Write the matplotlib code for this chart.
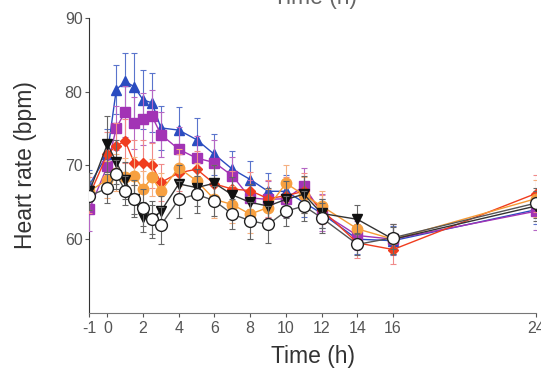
import matplotlib
matplotlib.use("Agg")
import matplotlib.pyplot as plt

plt.rcParams['font.family'] = ['Liberation Sans', 'DejaVu Sans']

times = [-1, 0, 0.5, 1, 1.5, 2, 2.5, 3, 4, 5, 6, 7, 8, 9, 10, 11, 12, 14, 16, 24]

blue_vals = [67.4, 71.5, 80.3, 81.4, 80.7, 78.9, 78.5, 75.1, 74.8, 73.5, 71.5, 69.5, 68.1, 66.5, 66.5, 65.0, 63.5, 60.0, 59.8, 64.0]
blue_err = [2.0, 3.5, 3.3, 3.8, 4.5, 4.0, 4.0, 3.0, 3.2, 3.0, 2.8, 2.5, 2.5, 2.5, 2.2, 2.0, 2.0, 2.0, 2.0, 2.0]

purple_vals = [64.1, 69.9, 75.1, 77.3, 75.8, 76.3, 76.7, 74.2, 72.2, 71.0, 70.4, 68.6, 65.6, 65.4, 65.5, 67.2, 63.6, 60.5, 60.0, 63.8]
purple_err = [3.0, 3.0, 3.0, 3.5, 3.5, 3.5, 3.5, 3.0, 3.0, 3.0, 3.0, 2.5, 2.5, 2.5, 2.5, 2.5, 2.5, 2.0, 2.0, 2.5]

red_vals = [66.0, 71.5, 72.7, 73.3, 70.4, 70.4, 70.0, 67.7, 69.0, 69.5, 67.5, 66.8, 66.6, 65.5, 65.9, 66.5, 64.0, 59.5, 58.6, 66.2]
red_err = [2.5, 3.0, 3.0, 3.0, 3.0, 3.0, 3.0, 2.5, 2.5, 2.5, 2.5, 2.5, 2.5, 2.5, 2.5, 2.5, 2.0, 2.0, 2.0, 2.5]

orange_vals = [66.5, 68.1, 69.0, 68.5, 68.6, 66.8, 68.4, 66.5, 69.7, 67.9, 65.4, 64.7, 63.4, 64.3, 67.6, 66.0, 64.5, 61.4, 60.0, 65.5]
orange_err = [2.5, 2.5, 2.5, 2.5, 2.5, 2.5, 2.5, 2.5, 2.5, 2.5, 2.5, 2.5, 2.5, 2.5, 2.5, 2.5, 2.0, 2.0, 2.0, 2.5]

black_vals = [66.5, 72.9, 70.5, 68.0, 65.5, 63.0, 62.7, 63.8, 67.5, 67.0, 67.6, 66.0, 65.0, 64.5, 65.4, 66.1, 63.5, 62.7, 60.0, 64.5]
black_err = [2.5, 3.8, 3.0, 2.5, 2.5, 2.0, 2.0, 2.0, 2.5, 2.5, 2.5, 2.5, 2.5, 2.5, 2.5, 2.5, 2.0, 2.0, 2.0, 2.0]

white_vals = [65.9, 66.9, 68.8, 66.6, 65.4, 64.3, 62.7, 61.9, 65.4, 66.1, 65.2, 63.4, 62.5, 62.0, 63.8, 64.5, 62.9, 59.3, 60.2, 64.9]
white_err = [2.0, 2.0, 2.0, 2.0, 2.0, 2.5, 2.5, 2.5, 2.5, 2.5, 2.0, 2.0, 2.5, 2.5, 2.0, 2.0, 2.0, 1.5, 1.5, 2.0]

xticks = [-1, 0, 2, 4, 6, 8, 10, 12, 14, 16, 24]
yticks = [60, 70, 80, 90]

fig = plt.figure(figsize=(5.41, 3.69), dpi=100)
ax = fig.add_axes([0.1654, 0.152, 0.8253, 0.799])

series = [
    (blue_vals, blue_err, '^', '#2a4cc0', '#2a4cc0', '#5a74cc', 7.5),
    (purple_vals, purple_err, 's', '#a233b5', '#a233b5', '#b566c4', 6.5),
    (red_vals, red_err, 'D', '#f03c1e', '#f03c1e', '#f08a8a', 5.5),
    (orange_vals, orange_err, 'o', '#f7a040', '#f59a35', '#f5b080', 7.5),
    (black_vals, black_err, 'v', '#111111', '#333333', '#666666', 7.5),
    (white_vals, white_err, 'o', 'white', '#555555', '#666666', 8.5),
]

for z, (vals, err, mk, fc, lc, ec, ms) in enumerate(series):
    ax.errorbar(times, vals, yerr=err, fmt='none', ecolor=ec, elinewidth=0.8,
                capsize=2, capthick=0.8, zorder=2 + z * 2)
    ax.plot(times, vals, color=lc, lw=1.0, marker=mk, ms=ms, mfc=fc,
            mec='#222222' if fc == 'white' else fc, mew=1.0, zorder=3 + z * 2)

ax.set_xlim(-1, 24)
ax.set_ylim(50, 90)
ax.set_xticks(xticks)
ax.set_xticklabels([str(v) for v in xticks])
ax.set_yticks(yticks)
ax.spines['top'].set_visible(False)
ax.spines['right'].set_visible(False)
ax.spines['left'].set_color('#333333')
ax.spines['bottom'].set_color('#777777')
ax.tick_params(axis='both', labelsize=11.5, colors='#555555', length=3, width=0.8, pad=3)
ax.tick_params(axis='y', pad=2)
ax.set_xlabel('Time (h)', fontsize=16.5, color='#333333', labelpad=6)
ax.set_ylabel('Heart rate (bpm)', fontsize=16.5, color='#333333', labelpad=20)

fig.text(0.582, 1 - 4 / 369, 'Time (h)', ha='center', va='baseline', fontsize=16.5, color='#666666')

fig.savefig('out.png', dpi=100)
